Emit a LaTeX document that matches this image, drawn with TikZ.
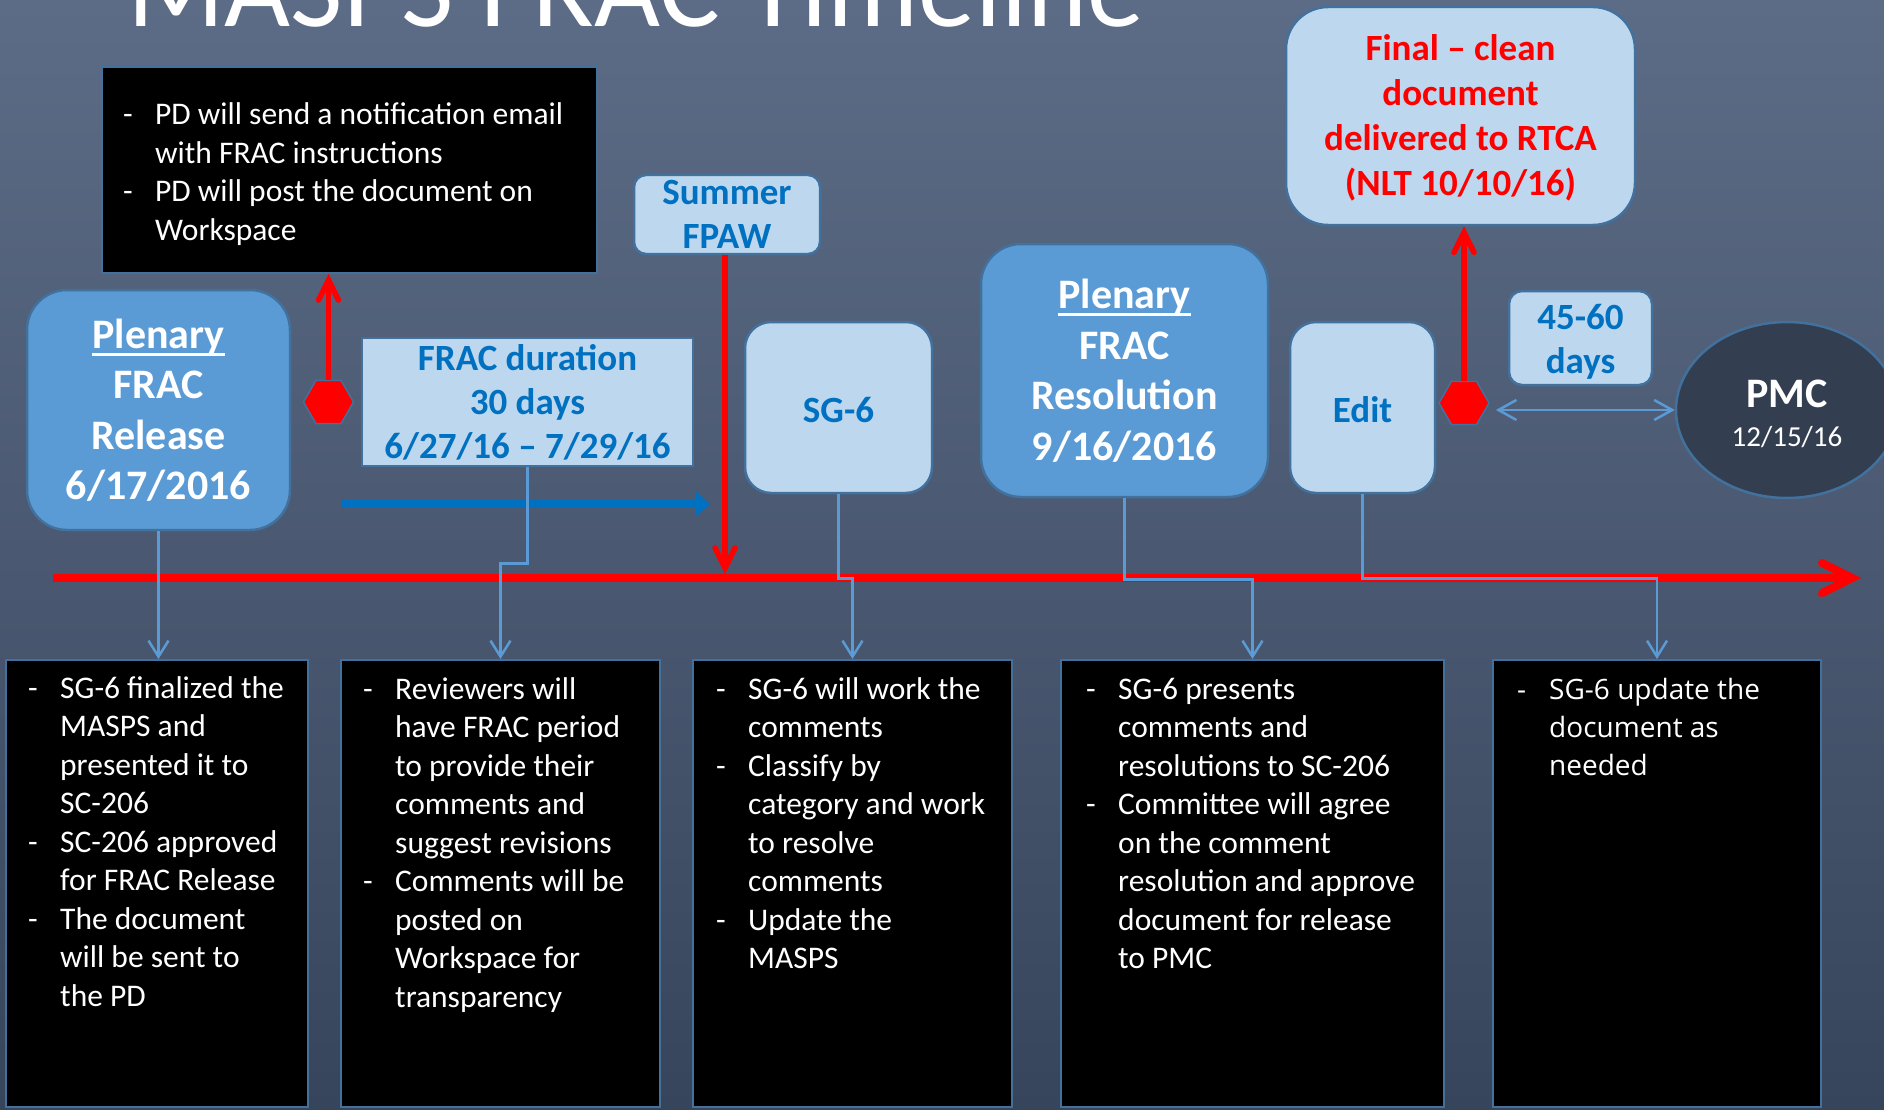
\documentclass[tikz,border=0pt]{standalone}
\usepackage{fontspec}
\setmainfont{Carlito}
\newfontfamily\altnotefont{Open Sans}
\usetikzlibrary{arrows.meta}
\usetikzlibrary{shapes.geometric}

\definecolor{slatetop}{RGB}{93,108,134}
\definecolor{slatebottom}{RGB}{55,69,92}
\definecolor{plenaryblue}{RGB}{91,155,213}
\definecolor{paleblue}{RGB}{189,215,238}
\definecolor{deepblue}{RGB}{0,112,192}
\definecolor{edgeblue}{RGB}{65,113,156}
\definecolor{linkblue}{RGB}{91,155,213}
\definecolor{pmcnavy}{RGB}{51,63,80}

\newsavebox\ulbox
\newcommand{\ulword}[1]{\sbox\ulbox{#1}\rlap{\rule[-7.5pt]{\wd\ulbox}{3pt}}\usebox\ulbox}
\newcommand{\notelines}[1]{\begin{tabular}[t]{@{}p{32pt}@{}l@{}}#1\end{tabular}}

\tikzstyle{title text}=[anchor=base west, inner sep=0, text=white, font=\fontsize{114}{120}\selectfont]
\tikzstyle{plenary box}=[draw=edgeblue, line width=2.5pt, fill=plenaryblue, rounded corners=40pt, text=white, align=center, font=\bfseries\fontsize{42}{50.5}\selectfont]
\tikzstyle{milestone box}=[draw=edgeblue, line width=2.5pt, fill=paleblue, text=deepblue, align=center, font=\bfseries\fontsize{37}{44}\selectfont]
\tikzstyle{notes box}=[draw=edgeblue, line width=2pt, fill=black]
\tikzstyle{notes text}=[anchor=base west, inner sep=0, text=white, font=\fontsize{31.5}{38.5}\selectfont]
\tikzstyle{marker}=[regular polygon, regular polygon sides=6, draw=edgeblue, line width=1.5pt, fill=red, minimum size=50pt, inner sep=0]
\tikzstyle{timeline}=[red, line width=8pt, -{Straight Barb[length=30pt, width=30pt, line cap=round]}]
\tikzstyle{deadline arrow}=[red, line width=5.5pt, -{Straight Barb[length=20pt, width=20pt, line cap=round]}]
\tikzstyle{period arrow}=[deepblue, line width=8pt, -{Triangle[length=14pt, width=24pt]}]
\tikzstyle{link arrow}=[linkblue, line width=2.5pt, -{Straight Barb[length=16pt, width=20pt]}]
\tikzstyle{span arrow}=[linkblue, line width=2.5pt, {Straight Barb[length=18pt, width=20pt]}-{Straight Barb[length=18pt, width=20pt]}]

\begin{document}
\begin{tikzpicture}[x=1pt, y=-1pt]
      \useasboundingbox (0, 0) rectangle (1884, 1110);
      \shade[top color=slatetop, bottom color=slatebottom] (0, 0) rectangle (1884, 1110);

      \node[title text] (title) at (127, 27) {MASPS FRAC Timeline};

      \coordinate (timeline_start) at (53, 578);
      \coordinate (timeline_end) at (1861, 578);
      \draw[timeline] (timeline_start) to (timeline_end);

      \node[notes box, minimum width=495pt, minimum height=206pt] (notes_pd) at (349.5, 170) {};
      \node[notes text] at ([shift={(22, 59)}] notes_pd.north west) {\notelines{
        - & PD will send a notification email\\
          & with FRAC instructions\\
        - & PD will post the document on\\
          & Workspace}};

      \node[plenary box, minimum width=263pt, minimum height=240pt] (plenary_release) at (158.5, 410)
        {\ulword{Plenary}\\FRAC\\Release\\6/17/2016};
      \node[milestone box, minimum width=331pt, minimum height=128pt] (frac_duration) at (527.5, 402)
        {FRAC duration\\30 days\\6/27/16 – 7/29/16};
      \node[milestone box, rounded corners=12pt, minimum width=186pt, minimum height=79pt] (summer_fpaw) at (727, 214.5)
        {Summer\\FPAW};
      \node[milestone box, rounded corners=26pt, minimum width=187pt, minimum height=171pt] (sg_six) at (838.5, 407.5)
        {\rule{0pt}{30pt}SG-6};
      \node[plenary box, minimum width=287pt, minimum height=253pt] (plenary_resolution) at (1124.5, 370.5)
        {\ulword{Plenary}\\FRAC\\Resolution\\9/16/2016};
      \node[milestone box, rounded corners=26pt, minimum width=145pt, minimum height=171pt] (edit) at (1362.5, 407.5)
        {\rule{0pt}{30pt}Edit};
      \node[milestone box, text=red, rounded corners=42pt, minimum width=349pt, minimum height=218pt,
        font=\bfseries\fontsize{37}{45}\selectfont] (final_doc) at (1460.5, 116)
        {\rule{0pt}{29pt}Final – clean\\document\\delivered to RTCA\\(NLT 10/10/16)};
      \node[milestone box, rounded corners=13pt, minimum width=143pt, minimum height=94pt] (days_box) at (1580.5, 338)
        {\rule{0pt}{32pt}45-60\\days};
      \node[ellipse, draw=edgeblue, line width=2.5pt, fill=pmcnavy, minimum width=222pt, minimum height=176pt,
        text=white, align=center, font=\fontsize{29}{39}\selectfont] (pmc) at (1787, 410)
        {\rule{0pt}{36pt}{\bfseries\fontsize{42}{39}\selectfont PMC}\\12/15/16};

      \node[marker] (hex_release) at (328.5, 402) {};
      \node[marker] (hex_edit) at (1464, 403) {};

      \coordinate (period_start) at (341, 504);
      \coordinate (period_end) at (710, 504);
      \draw[period arrow] (period_start) to (period_end);

      \draw[deadline arrow] (hex_release.north) to (hex_release.north |- notes_pd.south);
      \draw[deadline arrow] (hex_edit.north) to (hex_edit.north |- final_doc.south);
      \draw[deadline arrow, shorten >=4pt] ([xshift=-2pt] summer_fpaw.south) to ([xshift=-2pt] summer_fpaw.south |- timeline_start);
      \draw[span arrow, shorten <=6pt] (hex_edit.east |- pmc.west) to (pmc.west);

      \node[notes box, minimum width=302pt, minimum height=447pt] (notes_release) at (157, 883.5) {};
      \node[notes text] at ([shift={(23, 39)}] notes_release.north west) {\notelines{
        - & SG-6 finalized the\\
          & MASPS and\\
          & presented it to\\
          & SC-206\\
        - & SC-206 approved\\
          & for FRAC Release\\
        - & The document\\
          & will be sent to\\
          & the PD}};

      \node[notes box, minimum width=319pt, minimum height=447pt] (notes_frac) at (500.5, 883.5) {};
      \node[notes text] at ([shift={(23, 40)}] notes_frac.north west) {\notelines{
        - & Reviewers will\\
          & have FRAC period\\
          & to provide their\\
          & comments and\\
          & suggest revisions\\
        - & Comments will be\\
          & posted on\\
          & Workspace for\\
          & transparency}};

      \node[notes box, minimum width=319pt, minimum height=447pt] (notes_sg) at (852.5, 883.5) {};
      \node[notes text] at ([shift={(24, 40)}] notes_sg.north west) {\notelines{
        - & SG-6 will work the\\
          & comments\\
        - & Classify by\\
          & category and work\\
          & to resolve\\
          & comments\\
        - & Update the\\
          & MASPS}};

      \node[notes box, minimum width=383pt, minimum height=447pt] (notes_resolution) at (1252.5, 883.5) {};
      \node[notes text] at ([shift={(26, 40)}] notes_resolution.north west) {\notelines{
        - & SG-6 presents\\
          & comments and\\
          & resolutions to SC-206\\
        - & Committee will agree\\
          & on the comment\\
          & resolution and approve\\
          & document for release\\
          & to PMC}};

      \node[notes box, minimum width=328pt, minimum height=447pt] (notes_edit) at (1657, 883.5) {};
      \node[notes text, font=\altnotefont\fontsize{28}{38.3}\selectfont] at ([shift={(25, 40)}] notes_edit.north west) {\notelines{
        - & SG-6 update the\\
          & document as\\
          & needed}};

      \draw[link arrow] (plenary_release.south) to (plenary_release.south |- notes_release.north);
      \draw[link arrow] (frac_duration.south) -- ++(0, 96) -| (notes_frac.north);
      \draw[link arrow] (sg_six.south) -- ++(0, 84) -| (notes_sg.north);
      \draw[link arrow] (plenary_resolution.south) -- ++(0, 81) -| (notes_resolution.north);
      \draw[link arrow] (edit.south) -- ++(0, 84) -| (notes_edit.north);
    \end{tikzpicture}
\end{document}
